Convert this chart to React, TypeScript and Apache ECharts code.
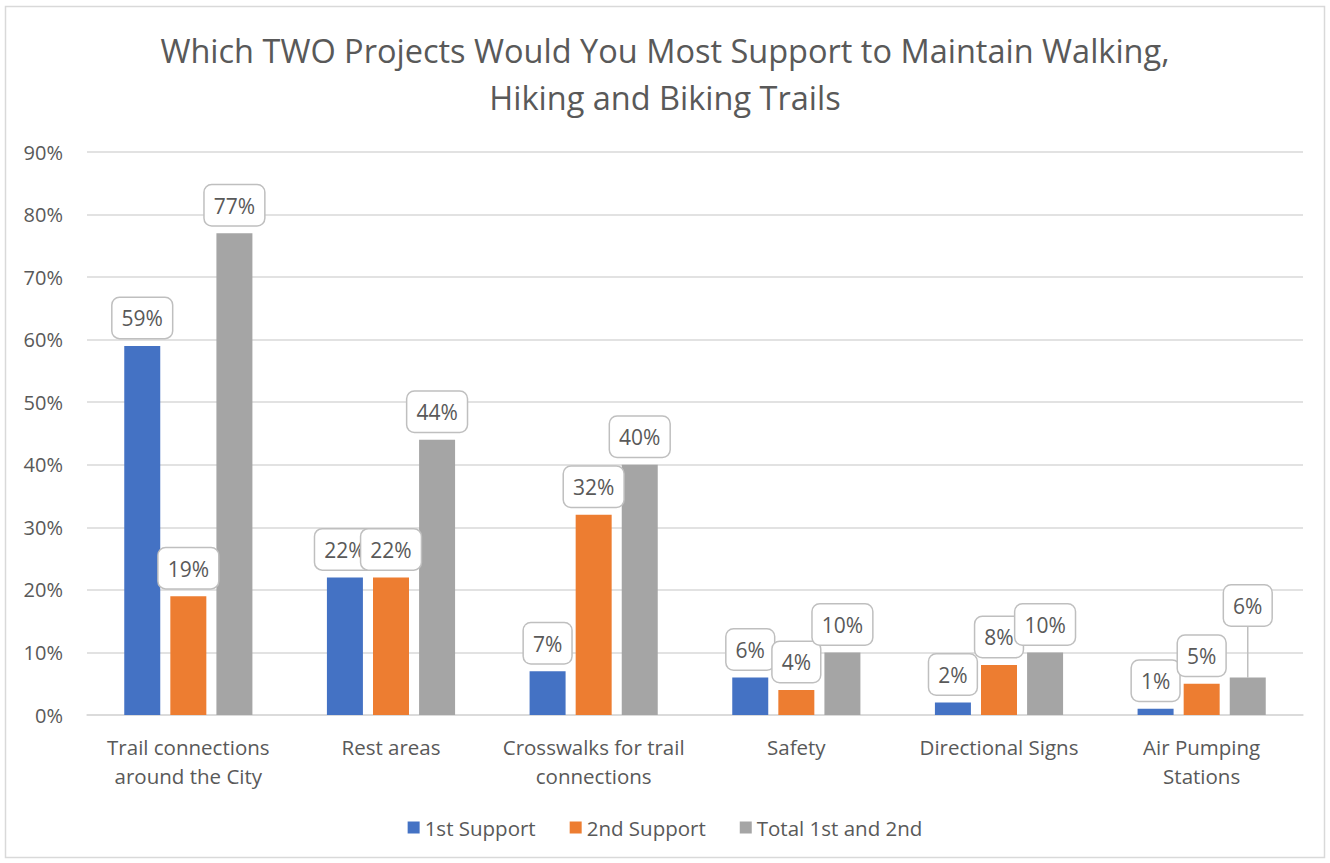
import React, { useEffect, useRef } from "react";
import * as echarts from "echarts";

const titleLines = ["Which TWO Projects Would You Most Support to Maintain Walking,", "Hiking and Biking Trails"];
const categories = [
  "Trail connections\naround the City",
  "Rest areas",
  "Crosswalks for trail\nconnections",
  "Safety",
  "Directional Signs",
  "Air Pumping\nStations",
];
const seriesNames = ["1st Support", "2nd Support", "Total 1st and 2nd"];
const firstSupport = [59, 22, 7, 6, 2, 1];
const secondSupport = [19, 22, 32, 4, 8, 5];
const totalSupport = [77, 44, 40, 10, 10, 6];
const colors = ["#4472C4", "#ED7D31", "#A5A5A5"];

const FONT = "'Open Sans', 'Noto Sans', sans-serif";
const TEXT = "#595959";

export default function App() {
  const ref = useRef<HTMLDivElement>(null);
  useEffect(() => {
    if (!ref.current) return;
    const chart = echarts.init(ref.current, undefined, { renderer: "svg" });
    const values = [firstSupport, secondSupport, totalSupport];
    const label = {
      show: true,
      position: "top",
      distance: 8,
      formatter: "{c}%",
      color: TEXT,
      fontFamily: FONT,
      fontSize: 21,
      backgroundColor: "#fff",
      borderColor: "#BFBFBF",
      borderWidth: 1.5,
      borderRadius: 7,
      padding: [10, 9, 9, 9],
    };
    chart.setOption({
      animation: false,
      textStyle: { fontFamily: FONT },
      title: {
        text: titleLines.join("\n"),
        left: "center",
        top: 22,
        textStyle: { color: TEXT, fontFamily: FONT, fontSize: 32.5, fontWeight: "normal", lineHeight: 47 },
      },
      graphic: [
        {
          type: "rect",
          shape: { x: 5.5, y: 6.5, width: 1319, height: 851 },
          style: { fill: "none", stroke: "#D9D9D9", lineWidth: 1.5 },
          silent: true,
        },
      ],
      legend: {
        bottom: 20,
        left: "center",
        icon: "rect",
        itemWidth: 12,
        itemHeight: 12,
        itemGap: 34,
        textStyle: { color: TEXT, fontFamily: FONT, fontSize: 20.5 },
        data: seriesNames,
      },
      grid: { left: 87, right: 27, top: 152, bottom: 148, containLabel: false },
      xAxis: {
        type: "category",
        data: categories,
        axisLine: { lineStyle: { color: "#D9D9D9", width: 1.5 } },
        axisTick: { show: false },
        axisLabel: { color: TEXT, fontFamily: FONT, fontSize: 20.5, lineHeight: 29, margin: 17, interval: 0 },
      },
      yAxis: {
        type: "value",
        min: 0,
        max: 90,
        interval: 10,
        axisLine: { show: false },
        axisTick: { show: false },
        axisLabel: { color: TEXT, fontFamily: FONT, fontSize: 20, formatter: "{value}%", margin: 24 },
        splitLine: { lineStyle: { color: "#D9D9D9", width: 1.5 } },
      },
      series: seriesNames.map((name, i) => ({
        name,
        type: "bar",
        data: values[i].map((v, j) =>
          i === 2 && j === 5
            ? { value: v, labelLine: { show: true, lineStyle: { color: "#BFBFBF", width: 1.5 } } }
            : v
        ),
        barWidth: 36,
        barGap: "28%",
        itemStyle: { color: colors[i] },
        label,
        labelLayout: (p: any) => (i === 2 && p.dataIndex === 5 ? { dy: -44 } : {}),
        labelLine: { show: false },
      })),
    });
    return () => chart.dispose();
  }, []);
  return (
    <div
      ref={ref}
      style={{ position: "absolute", left: 0, top: 0, width: 1330, height: 863, background: "#fff" }}
    />
  );
}
